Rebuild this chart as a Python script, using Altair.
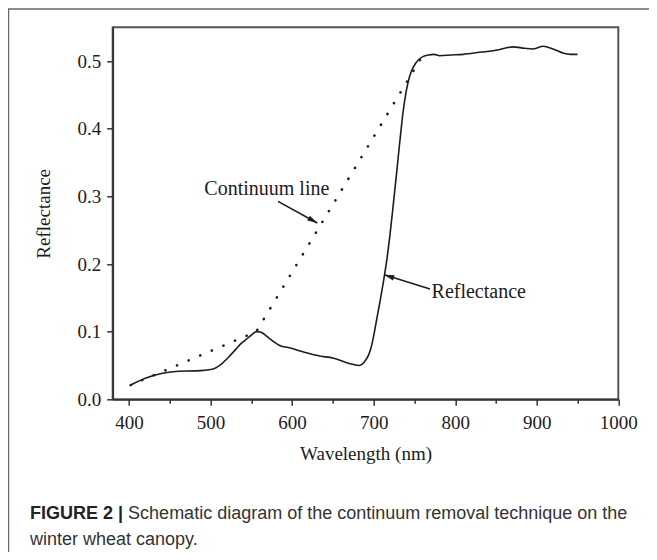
import altair as alt
import pandas as pd

# ---------------- data ----------------
wavelength = [402, 420, 441, 461, 482, 502, 512, 525, 538, 546, 551, 556, 561, 566, 572,
              584, 599, 614, 634, 650, 670, 682, 689, 694, 698, 701, 704, 708, 712,
              716, 720, 724, 728, 732, 736, 740, 744, 749, 755, 761, 767, 774, 781,
              795, 810, 830, 850, 871, 885, 896, 908, 920, 932, 941, 950]
reflectance = [0.021, 0.031, 0.0385, 0.0415, 0.042, 0.0444, 0.051, 0.066, 0.083, 0.091,
               0.096, 0.100, 0.0995, 0.096, 0.090, 0.080, 0.0755, 0.070, 0.064, 0.061,
               0.053, 0.050, 0.056, 0.066, 0.082, 0.100, 0.120, 0.146, 0.174, 0.205,
               0.243, 0.287, 0.333, 0.380, 0.424, 0.456, 0.477, 0.492, 0.502, 0.507,
               0.509, 0.510, 0.508, 0.509, 0.510, 0.513, 0.516, 0.521, 0.519, 0.518,
               0.522, 0.518, 0.512, 0.510, 0.510]

continuum_wl = [402, 556, 760]
continuum_r = [0.021, 0.100, 0.508]

x_ticks = [400, 450, 500, 550, 600, 650, 700, 750, 800, 850, 900, 950, 1000]
y_ticks = [0.0, 0.05, 0.1, 0.15, 0.2, 0.25, 0.3, 0.35, 0.4, 0.45, 0.5]

ann_labels = ["Continuum line", "Reflectance"]
ann_wl = [569, 771]
ann_r = [0.311, 0.158]

arrow_start_wl = [582.7, 769.1]
arrow_start_r = [0.2927, 0.163]
arrow_tip_wl = [630.9, 713.0]
arrow_tip_r = [0.2607, 0.1841]

caption_bold = "FIGURE 2 |"
caption_line1 = "Schematic diagram of the continuum removal technique on the"
caption_line2 = "winter wheat canopy."

# ---------------- tables ----------------
ref_df = pd.DataFrame({"wavelength": wavelength, "reflectance": reflectance})
cont_df = pd.DataFrame({"wavelength": continuum_wl, "reflectance": continuum_r})
arrow_df = pd.DataFrame({"x": arrow_start_wl, "y": arrow_start_r,
                         "x2": arrow_tip_wl, "y2": arrow_tip_r})
one = pd.DataFrame({"a": [0]})

W, H = 505.6, 372
SERIF = "Liberation Serif"
SANS = "Liberation Sans"
INK = "#1c1c1c"

x_scale = alt.Scale(domain=[380, 1000], nice=False, zero=False)
y_scale = alt.Scale(domain=[0, 0.55], nice=False)

x_axis = alt.Axis(
    title="Wavelength (nm)", values=x_ticks, format="d",
    labelExpr="datum.value % 100 === 0 ? datum.label : ''",
    tickSize={"condition": {"test": "datum.value % 100 === 0", "value": 6}, "value": 4},
    labelFont=SERIF, labelFontSize=19, labelColor=INK, labelPadding=8,
    titleFont=SERIF, titleFontSize=19, titleFontWeight="normal", titleColor=INK,
    titlePadding=12, tickColor="#333", tickWidth=1.5, domainColor="#333",
    domainWidth=1.8, grid=False, labelFlush=False, labelOverlap=False,
)
y_axis = alt.Axis(
    title="Reflectance", values=y_ticks, format=".1f",
    labelExpr="round(datum.value * 100) % 10 === 0 ? datum.label : ''",
    tickSize={"condition": {"test": "round(datum.value * 100) % 10 === 0", "value": 6}, "value": 3},
    labelFont=SERIF, labelFontSize=19, labelColor=INK, labelPadding=6,
    titleFont=SERIF, titleFontSize=19, titleFontWeight="normal", titleColor=INK,
    titlePadding=23, tickColor="#333", tickWidth=1.5, domainColor="#333",
    domainWidth=1.8, grid=False, labelFlush=False, labelOverlap=False,
)

refl = alt.Chart(ref_df).mark_line(
    color=INK, strokeWidth=1.6, interpolate="monotone"
).encode(
    x=alt.X("wavelength:Q", scale=x_scale, axis=x_axis),
    y=alt.Y("reflectance:Q", scale=y_scale, axis=y_axis),
)

cont = alt.Chart(cont_df).mark_line(
    color=INK, strokeWidth=2.6, strokeDash=[0.1, 12.5], strokeCap="round"
).encode(x="wavelength:Q", y="reflectance:Q")

shafts = alt.Chart(arrow_df).mark_rule(color=INK, strokeWidth=1.6).encode(
    x="x:Q", y="y:Q", x2="x2:Q", y2="y2:Q"
)

head_shape = "M0,0L0.55,2L-0.55,2Z"
head1 = alt.Chart(arrow_df.iloc[[0]]).mark_point(
    shape=head_shape, size=100, filled=True, color=INK, opacity=1, angle=118.8
).encode(x="x2:Q", y="y2:Q")
head2 = alt.Chart(arrow_df.iloc[[1]]).mark_point(
    shape=head_shape, size=100, filled=True, color=INK, opacity=1, angle=287.6
).encode(x="x2:Q", y="y2:Q")

ann_df = pd.DataFrame({"label": ann_labels, "wavelength": ann_wl, "reflectance": ann_r})
ann1 = alt.Chart(ann_df.iloc[[0]]).mark_text(
    font=SERIF, fontSize=20, color=INK, align="center", baseline="middle"
).encode(x="wavelength:Q", y="reflectance:Q", text="label:N")
ann2 = alt.Chart(ann_df.iloc[[1]]).mark_text(
    font=SERIF, fontSize=20, color=INK, align="left", baseline="middle"
).encode(x="wavelength:Q", y="reflectance:Q", text="label:N")

# outer figure box
border = alt.Chart(one).mark_rect(
    filled=False, stroke="#6a6a6a", strokeWidth=1.5
).encode(x=alt.value(-104.2), x2=alt.value(538.3), y=alt.value(-18.3), y2=alt.value(560))

cap_b = alt.Chart(one).mark_text(
    text=caption_bold, font=SANS, fontSize=18, fontWeight="bold", color="#222",
    align="left", baseline="middle"
).encode(x=alt.value(-82.7), y=alt.value(486.7))
cap_1 = alt.Chart(one).mark_text(
    text=caption_line1, font=SANS, fontSize=18, color="#333",
    align="left", baseline="middle"
).encode(x=alt.value(15.4), y=alt.value(486.7))
cap_2 = alt.Chart(one).mark_text(
    text=caption_line2, font=SANS, fontSize=18, color="#333",
    align="left", baseline="middle"
).encode(x=alt.value(-82.7), y=alt.value(512.7))

chart = alt.layer(
    border, refl, cont, shafts, head1, head2, ann1, ann2, cap_b, cap_1, cap_2
).properties(
    width=W, height=H,
    autosize=alt.AutoSizeParams(type="none"),
    padding={"left": 104.7, "top": 19.3, "right": 30.7, "bottom": 152.7},
    background="white",
).configure_view(stroke="#555", strokeWidth=2)

chart.save("out.html", embed_options={"renderer": "svg", "actions": False})
